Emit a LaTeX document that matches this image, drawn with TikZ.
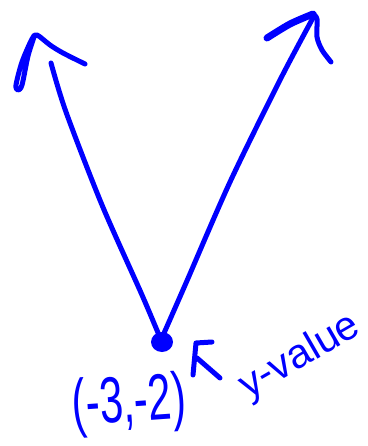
\documentclass[tikz,border=0pt]{standalone}
\usepackage{fontspec}
\setmainfont{Liberation Sans}
\definecolor{pen}{RGB}{0,0,255}
\begin{document}
\begin{tikzpicture}[x=1pt,y=-1pt,
  ink/.style={draw=pen,line width=5pt,line cap=round,line join=round},
  lbl/.style={text=pen,inner sep=0pt}]
\useasboundingbox (0,0) rectangle (367,446);
\coordinate (v) at (161,340);
\coordinate (lt) at (51,63);
\coordinate (rt) at (314,16);
% arms
\draw[ink] plot[smooth,tension=0.5] coordinates {(v) (142,295) (102,205) (66,112) (lt)};
\draw[ink] plot[smooth,tension=0.5] coordinates {(v) (186,283) (230,182) (280,80) (rt)};
% left arrowhead
\draw[ink] plot[smooth,tension=0.5] coordinates {(85,64) (63,53) (50,45) (37,35) (32,39) (22,62) (16,85) (18,90) (22,85) (28,56) (34,37)};
% right arrowhead
\draw[ink,line width=7pt] plot[smooth,tension=0.5] coordinates {(267,38) (290,24) (313,14)};
\draw[ink] plot[smooth,tension=0.5] coordinates {(313,14) (317,19) (317,37) (322,50) (331,62)};
% vertex dot
\fill[pen] (162,342) ellipse[x radius=11pt,y radius=10pt];
% labels
\node[lbl,font=\fontsize{42}{42}\selectfont,rotate=4,yscale=1.55] (pt) at (129,405) {(-3,-2)};
\node[lbl,font=\fontsize{41}{41}\selectfont,rotate=30] (yv) at (300,357) {y-value};
% small pointer
\coordinate (p1) at (212,342);
\coordinate (p2) at (196,343);
\coordinate (p3) at (193,375);
\coordinate (p4) at (197,358);
\coordinate (p5) at (220,378);
\draw[ink] (p1) -- (p2) -- (p3);
\draw[ink] (p4) -- (p5);
\end{tikzpicture}
\end{document}
